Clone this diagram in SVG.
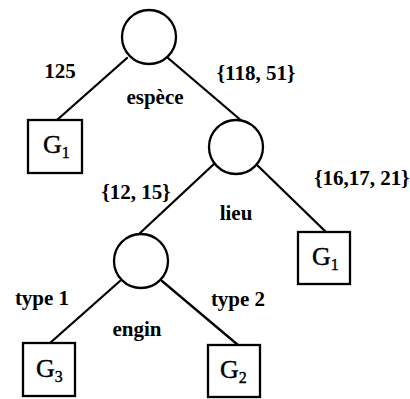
<svg xmlns="http://www.w3.org/2000/svg" width="410" height="399" viewBox="0 0 410 399">
  <style>
    .edge { stroke: #000; stroke-width: 2.3; fill: none; stroke-linecap: round; }
    .node { stroke: #000; stroke-width: 2.3; fill: #fff; }
    .leaf { stroke: #000; stroke-width: 2.3; fill: #fff; }
    .lbl { font-family: "Liberation Serif", "Times New Roman", serif; font-size: 21px; font-weight: bold; fill: #000; text-anchor: middle; }
    .g { font-family: "Liberation Serif", "Times New Roman", serif; font-size: 26px; fill: #000; stroke: #000; stroke-width: 0.4; }
    .sub { font-size: 16px; }
  </style>
  <rect width="410" height="399" fill="#fff"/>

  <g id="connectors">
    <line class="edge" x1="127" y1="58" x2="57" y2="120"/>
    <line class="edge" x1="168" y1="58" x2="243" y2="122"/>
    <line class="edge" x1="214" y1="164" x2="139" y2="234"/>
    <line class="edge" x1="257" y1="165" x2="326" y2="232"/>
    <line class="edge" x1="120" y1="281" x2="50" y2="343"/>
    <line class="edge" x1="162" y1="281" x2="238" y2="345"/>
    <text class="lbl" x="60" y="78">125</text>
    <text class="lbl" x="256" y="80">{118, 51}</text>
    <text class="lbl" x="136" y="199">{12, 15}</text>
    <text class="lbl" x="362" y="185">{16,17, 21}</text>
    <text class="lbl" x="42" y="305">type 1</text>
    <text class="lbl" x="238" y="306">type 2</text>
  </g>

  <g id="espece">
    <circle class="node" cx="149" cy="37" r="27"/>
    <text class="lbl" x="155" y="104">espèce</text>
  </g>
  <g id="lieu">
    <circle class="node" cx="236" cy="147" r="27"/>
    <text class="lbl" x="236" y="220">lieu</text>
  </g>
  <g id="engin">
    <circle class="node" cx="141" cy="261" r="27"/>
    <text class="lbl" x="137" y="336">engin</text>
  </g>

  <g id="leaf-g1-left">
    <rect class="leaf" x="28" y="120" width="54" height="53"/>
    <text class="g" x="43" y="153">G<tspan class="sub" dy="5">1</tspan></text>
  </g>
  <g id="leaf-g1-right">
    <rect class="leaf" x="298" y="232" width="52" height="52"/>
    <text class="g" x="312" y="265">G<tspan class="sub" dy="5">1</tspan></text>
  </g>
  <g id="leaf-g3">
    <rect class="leaf" x="23" y="343" width="52" height="53"/>
    <text class="g" x="36" y="377">G<tspan class="sub" dy="5">3</tspan></text>
  </g>
  <g id="leaf-g2">
    <rect class="leaf" x="208" y="345" width="52" height="52"/>
    <text class="g" x="220" y="378">G<tspan class="sub" dy="5">2</tspan></text>
  </g>
</svg>
